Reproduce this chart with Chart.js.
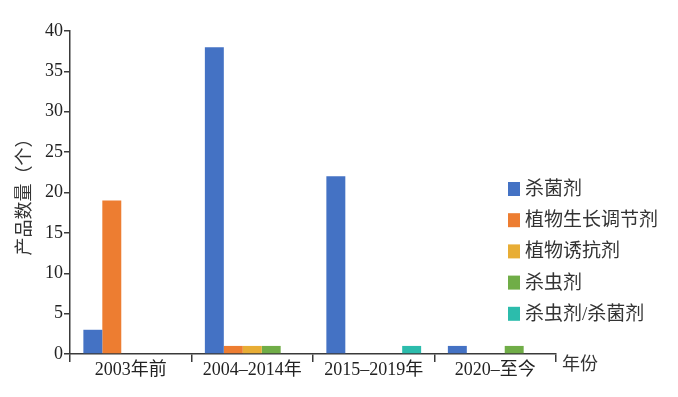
<!DOCTYPE html>
<html>
<head>
<meta charset="utf-8">
<script src="https://cdn.jsdelivr.net/npm/chart.js@4/dist/chart.umd.min.js"></script>
<style>
  body { margin: 0; background: #fff; }
  #wrap { width: 678px; height: 397px; }
</style>
</head>
<body>
<div id="wrap"><canvas id="chart"></canvas></div>
<script>
var periods = ['2003年前', '2004–2014年', '2015–2019年', '2020–至今'];
var names = ['杀菌剂', '植物生长调节剂', '植物诱抗剂', '杀虫剂', '杀虫剂/杀菌剂'];
var colors = ['#4472C4', '#ED7D31', '#E8AD35', '#70AD47', '#2CBCAC'];
var fungicide = [3, 38, 22, 1];
var growthRegulator = [19, 1, 0, 0];
var inducer = [0, 1, 0, 0];
var insecticide = [0, 1, 0, 1];
var mixed = [0, 0, 1, 0];
var yTicks = [0, 5, 10, 15, 20, 25, 30, 35, 40];

const font = '"Times New Roman", "Liberation Serif", "Noto Sans CJK SC", serif';
const axisColor = '#3a3a3a';

const values = [fungicide, growthRegulator, inducer, insecticide, mixed];
let datasets = [];
for (let i = 0; i < names.length; i++) {
    datasets.push({
        label: names[i],
        data: values[i],
        backgroundColor: colors[i],
        categoryPercentage: 0.78,
        barPercentage: 1.0
    });
}

// legend on the right side + "年份" after the x axis
const extras = {
    id: 'extras',
    afterDraw(chart) {
        const ctx = chart.ctx;
        ctx.save();
        ctx.font = '19px ' + font;
        ctx.textBaseline = 'middle';
        ctx.textAlign = 'left';
        chart.data.datasets.forEach((ds, i) => {
            const y = 189 + i * 31.2;
            ctx.fillStyle = ds.backgroundColor;
            ctx.fillRect(508, y - 7, 12, 14);
            ctx.fillStyle = '#333';
            ctx.fillText(ds.label, 525, y + 1);
        });
        ctx.font = '18px ' + font;
        ctx.fillText('年份', 562, 365);
        ctx.restore();
    }
};

new Chart(document.getElementById('chart'), {
    type: 'bar',
    data: { labels: periods, datasets: datasets },
    options: {
        responsive: true,
        maintainAspectRatio: false,
        animation: false,
        layout: { padding: { top: 31, right: 122, bottom: 0, left: 0 } },
        plugins: {
            legend: { display: false },
            tooltip: { enabled: false }
        },
        scales: {
            x: {
                afterFit(scale) { scale.height = 43; },
                border: { color: axisColor, width: 1.5 },
                grid: {
                    offset: true,
                    drawOnChartArea: false,
                    drawTicks: true,
                    tickLength: 8,
                    color: axisColor,
                    lineWidth: 1.5
                },
                ticks: {
                    color: '#222',
                    font: { family: font, size: 18 },
                    padding: -3,
                    maxRotation: 0
                }
            },
            y: {
                min: 0,
                max: 40,
                afterFit(scale) { scale.width = 70; },
                afterBuildTicks(scale) { scale.ticks = yTicks.map(v => ({ value: v })); },
                border: { color: axisColor, width: 1.5 },
                grid: {
                    drawOnChartArea: false,
                    tickLength: 6,
                    color: axisColor,
                    lineWidth: 1.5
                },
                ticks: {
                    color: '#222',
                    font: { family: font, size: 18 },
                    padding: 1
                },
                title: {
                    display: true,
                    text: '产品数量（个）',
                    color: '#333',
                    font: { family: font, size: 18 },
                    padding: { top: 14, bottom: 0 }
                }
            }
        }
    },
    plugins: [extras]
});
</script>
</body>
</html>
